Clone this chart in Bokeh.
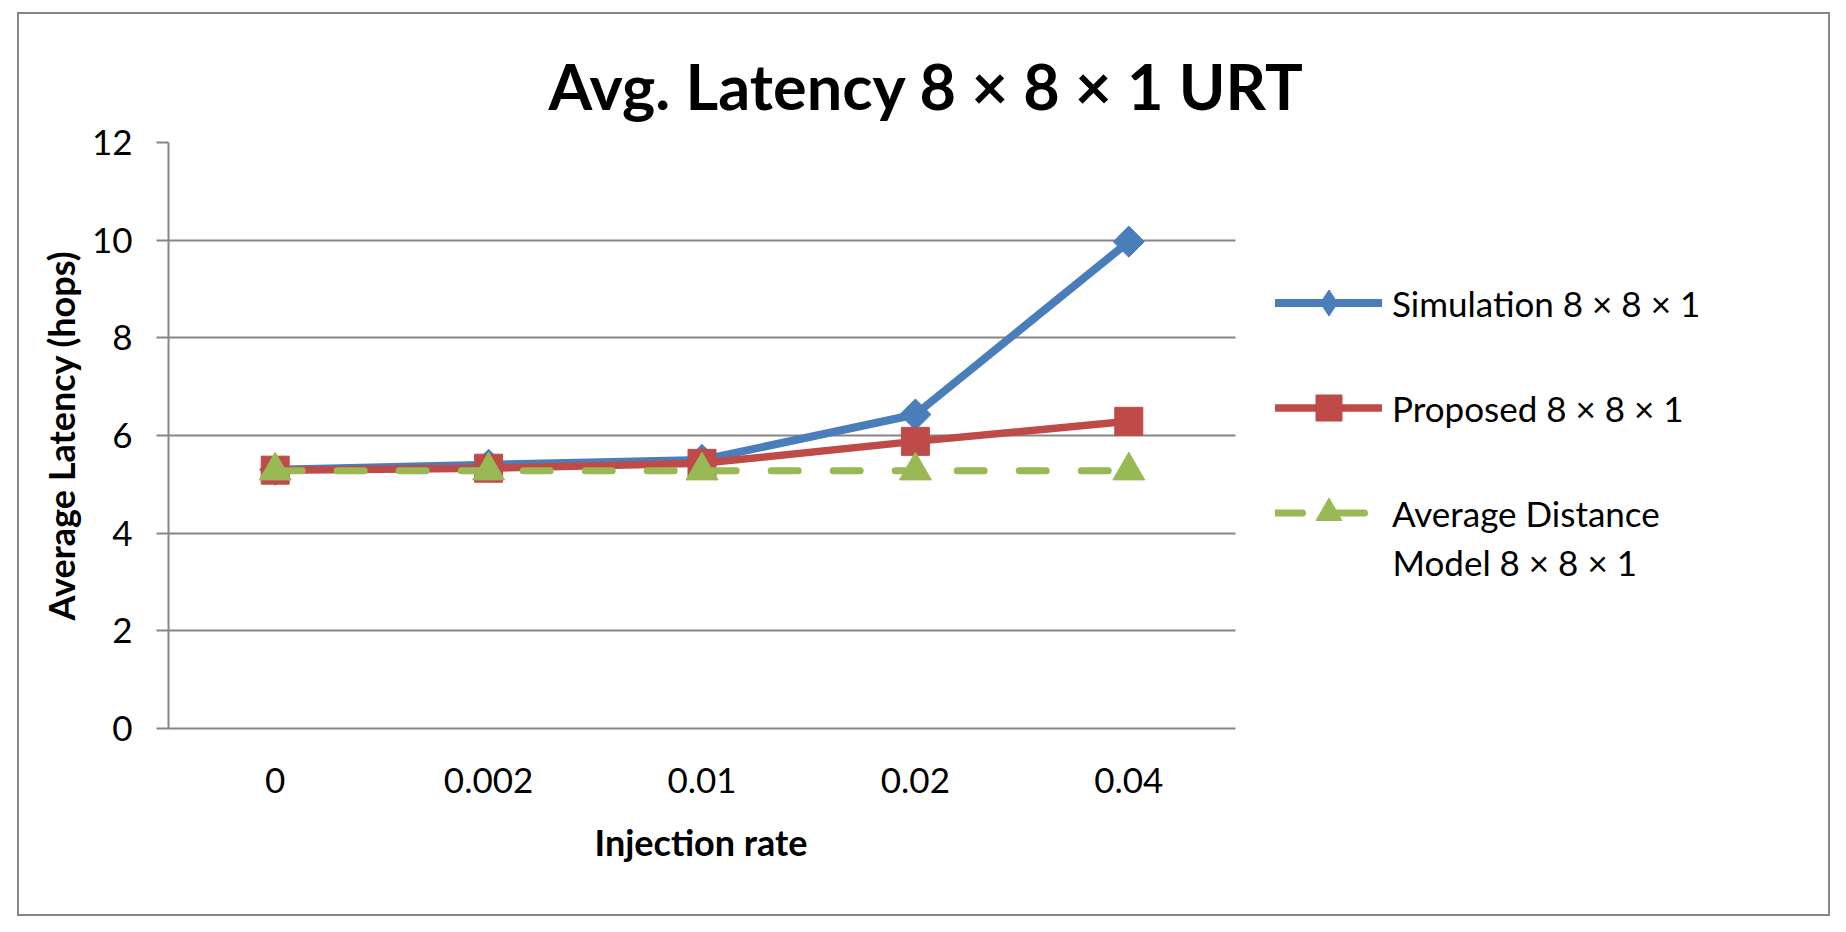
import numpy as np
from bokeh.plotting import figure
from bokeh.models import Range1d, Legend, LegendItem, FixedTicker, Label, Title
from bokeh.embed import file_html
from bokeh.resources import INLINE

# ---- data ----
rates = ["0", "0.002", "0.01", "0.02", "0.04"]
simulation = [5.30, 5.40, 5.50, 6.43, 9.97]
proposed = [5.29, 5.33, 5.43, 5.88, 6.29]
avg_distance = [5.28, 5.28, 5.28, 5.28, 5.28]
y_ticks = [0, 2, 4, 6, 8, 10, 12]

title_text = "Avg. Latency 8 × 8 × 1 URT"
x_title = "Injection rate"
y_title = "Average Latency (hops)"
series_names = ["Simulation 8 × 8 × 1", "Proposed 8 × 8 × 1",
                "Average Distance", "Model 8 × 8 × 1"]

# category slots (one per injection rate)
x_pos = list(range(len(rates)))

# ---- style / layout ----
BLUE = "#4A7EBB"
RED = "#BE4B48"
GREEN = "#98B954"
GRID = "#868686"
FONT = "Lato"

W, H = 1813, 904
MB_L, MB_R, MB_T, MB_B = 149, 10, 128, 190
PLOT_W = 1067                      # width of the charted category area
frame_w = W - MB_L - MB_R
unit = PLOT_W / len(rates)
x_start = -0.5
x_stop = len(rates) - 0.5
x_end = x_start + frame_w / unit

css = (":host { border: 2px solid #868686 !important; "
       "margin: 12px 0px 0px 17px !important; }")

p = figure(width=W, height=H,
           x_range=Range1d(x_start, x_end), y_range=Range1d(0, 12),
           output_backend="svg", toolbar_location=None,
           min_border_left=MB_L, min_border_right=MB_R,
           min_border_top=MB_T, min_border_bottom=MB_B,
           stylesheets=[css])

p.outline_line_color = None
p.background_fill_color = "white"
p.border_fill_color = "white"

p.title.text = title_text
p.title.align = "left"
p.title.offset = 380
p.title.standoff = 40
p.title.text_font = FONT
p.title.text_font_style = "bold"
p.title.text_font_size = "63px"
p.title.text_color = "black"

p.xgrid.grid_line_color = None
p.ygrid.grid_line_color = GRID
p.ygrid.grid_line_width = 2
p.ygrid.cross_bounds = (x_start, x_stop)

p.yaxis.ticker = FixedTicker(ticks=y_ticks)
p.yaxis.axis_line_color = GRID
p.yaxis.axis_line_width = 2
p.yaxis.major_tick_line_color = GRID
p.yaxis.major_tick_line_width = 2
p.yaxis.major_tick_out = 12
p.yaxis.major_tick_in = 0
p.yaxis.minor_tick_line_color = None
p.yaxis.major_label_text_font = FONT
p.yaxis.major_label_text_font_size = "35px"
p.yaxis.major_label_text_color = "black"
p.yaxis.major_label_standoff = 24
p.yaxis.axis_label = y_title
p.yaxis.axis_label_text_font = FONT
p.yaxis.axis_label_text_font_style = "bold"
p.yaxis.axis_label_text_font_size = "36px"
p.yaxis.axis_label_text_color = "black"
p.yaxis.axis_label_standoff = 6

p.xaxis.bounds = (x_start, x_stop)
p.xaxis.ticker = FixedTicker(ticks=x_pos)
p.xaxis.major_label_overrides = {i: r for i, r in zip(x_pos, rates)}
p.xaxis.axis_line_color = GRID
p.xaxis.axis_line_width = 2
p.xaxis.major_tick_line_color = None
p.xaxis.minor_tick_line_color = None
p.xaxis.major_label_text_font = FONT
p.xaxis.major_label_text_font_size = "35px"
p.xaxis.major_label_text_color = "black"
p.xaxis.major_label_standoff = 33

# x-axis title, centred under the category area
x_label = Title(text=x_title, align="left", offset=426,
                vertical_align="top", standoff=48,
                text_font=FONT, text_font_style="bold",
                text_font_size="36px", text_color="black")
p.add_layout(x_label, "below")

# ---- series ----
r_sim_l = p.line(x_pos, simulation, line_color=BLUE, line_width=8,
                 line_cap="round", line_join="round")
r_sim_d = p.scatter(x_pos, simulation, marker="diamond", size=24,
                    fill_color=BLUE, line_color=BLUE)
r_sim_m = p.scatter(x_pos, simulation, marker="square", angle=np.pi / 4,
                    size=22, fill_color=BLUE, line_color=BLUE)
r_pro_l = p.line(x_pos, proposed, line_color=RED, line_width=7.5,
                 line_cap="round", line_join="round")
r_pro_m = p.scatter(x_pos, proposed, marker="square", size=28,
                    fill_color=RED, line_color=RED)
r_avg_l = p.line(x_pos, avg_distance, line_color=GREEN, line_width=7,
                 line_dash="27 35", line_cap="round")
r_avg_m = p.scatter(x_pos, avg_distance, marker="triangle", size=32,
                    fill_color=GREEN, line_color=GREEN)

# ---- legend (to the right of the category area) ----
LEG_X = 1107      # from plot-area left to legend glyph start
LEG_Y = 183       # from plot-area bottom to legend bottom
GLYPH_W = 107
STANDOFF = 10
legend = Legend(items=[
    LegendItem(label=series_names[0], renderers=[r_sim_l, r_sim_d]),
    LegendItem(label=series_names[1], renderers=[r_pro_l, r_pro_m]),
    LegendItem(label=series_names[2], renderers=[r_avg_l, r_avg_m]),
], location=(LEG_X, LEG_Y), margin=0, padding=0, spacing=40,
   glyph_width=GLYPH_W, glyph_height=65, label_standoff=STANDOFF,
   label_text_font=FONT, label_text_font_size="35px",
   label_text_color="black",
   border_line_color=None, background_fill_alpha=0)
p.add_layout(legend)

legend_line2 = Label(x=LEG_X + GLYPH_W + STANDOFF, y=167,
                     x_units="screen", y_units="screen",
                     text=series_names[3], text_align="left",
                     text_baseline="alphabetic",
                     text_font=FONT, text_font_size="35px",
                     text_color="black")
p.add_layout(legend_line2)

open("out.html", "w").write(file_html(p, INLINE))
